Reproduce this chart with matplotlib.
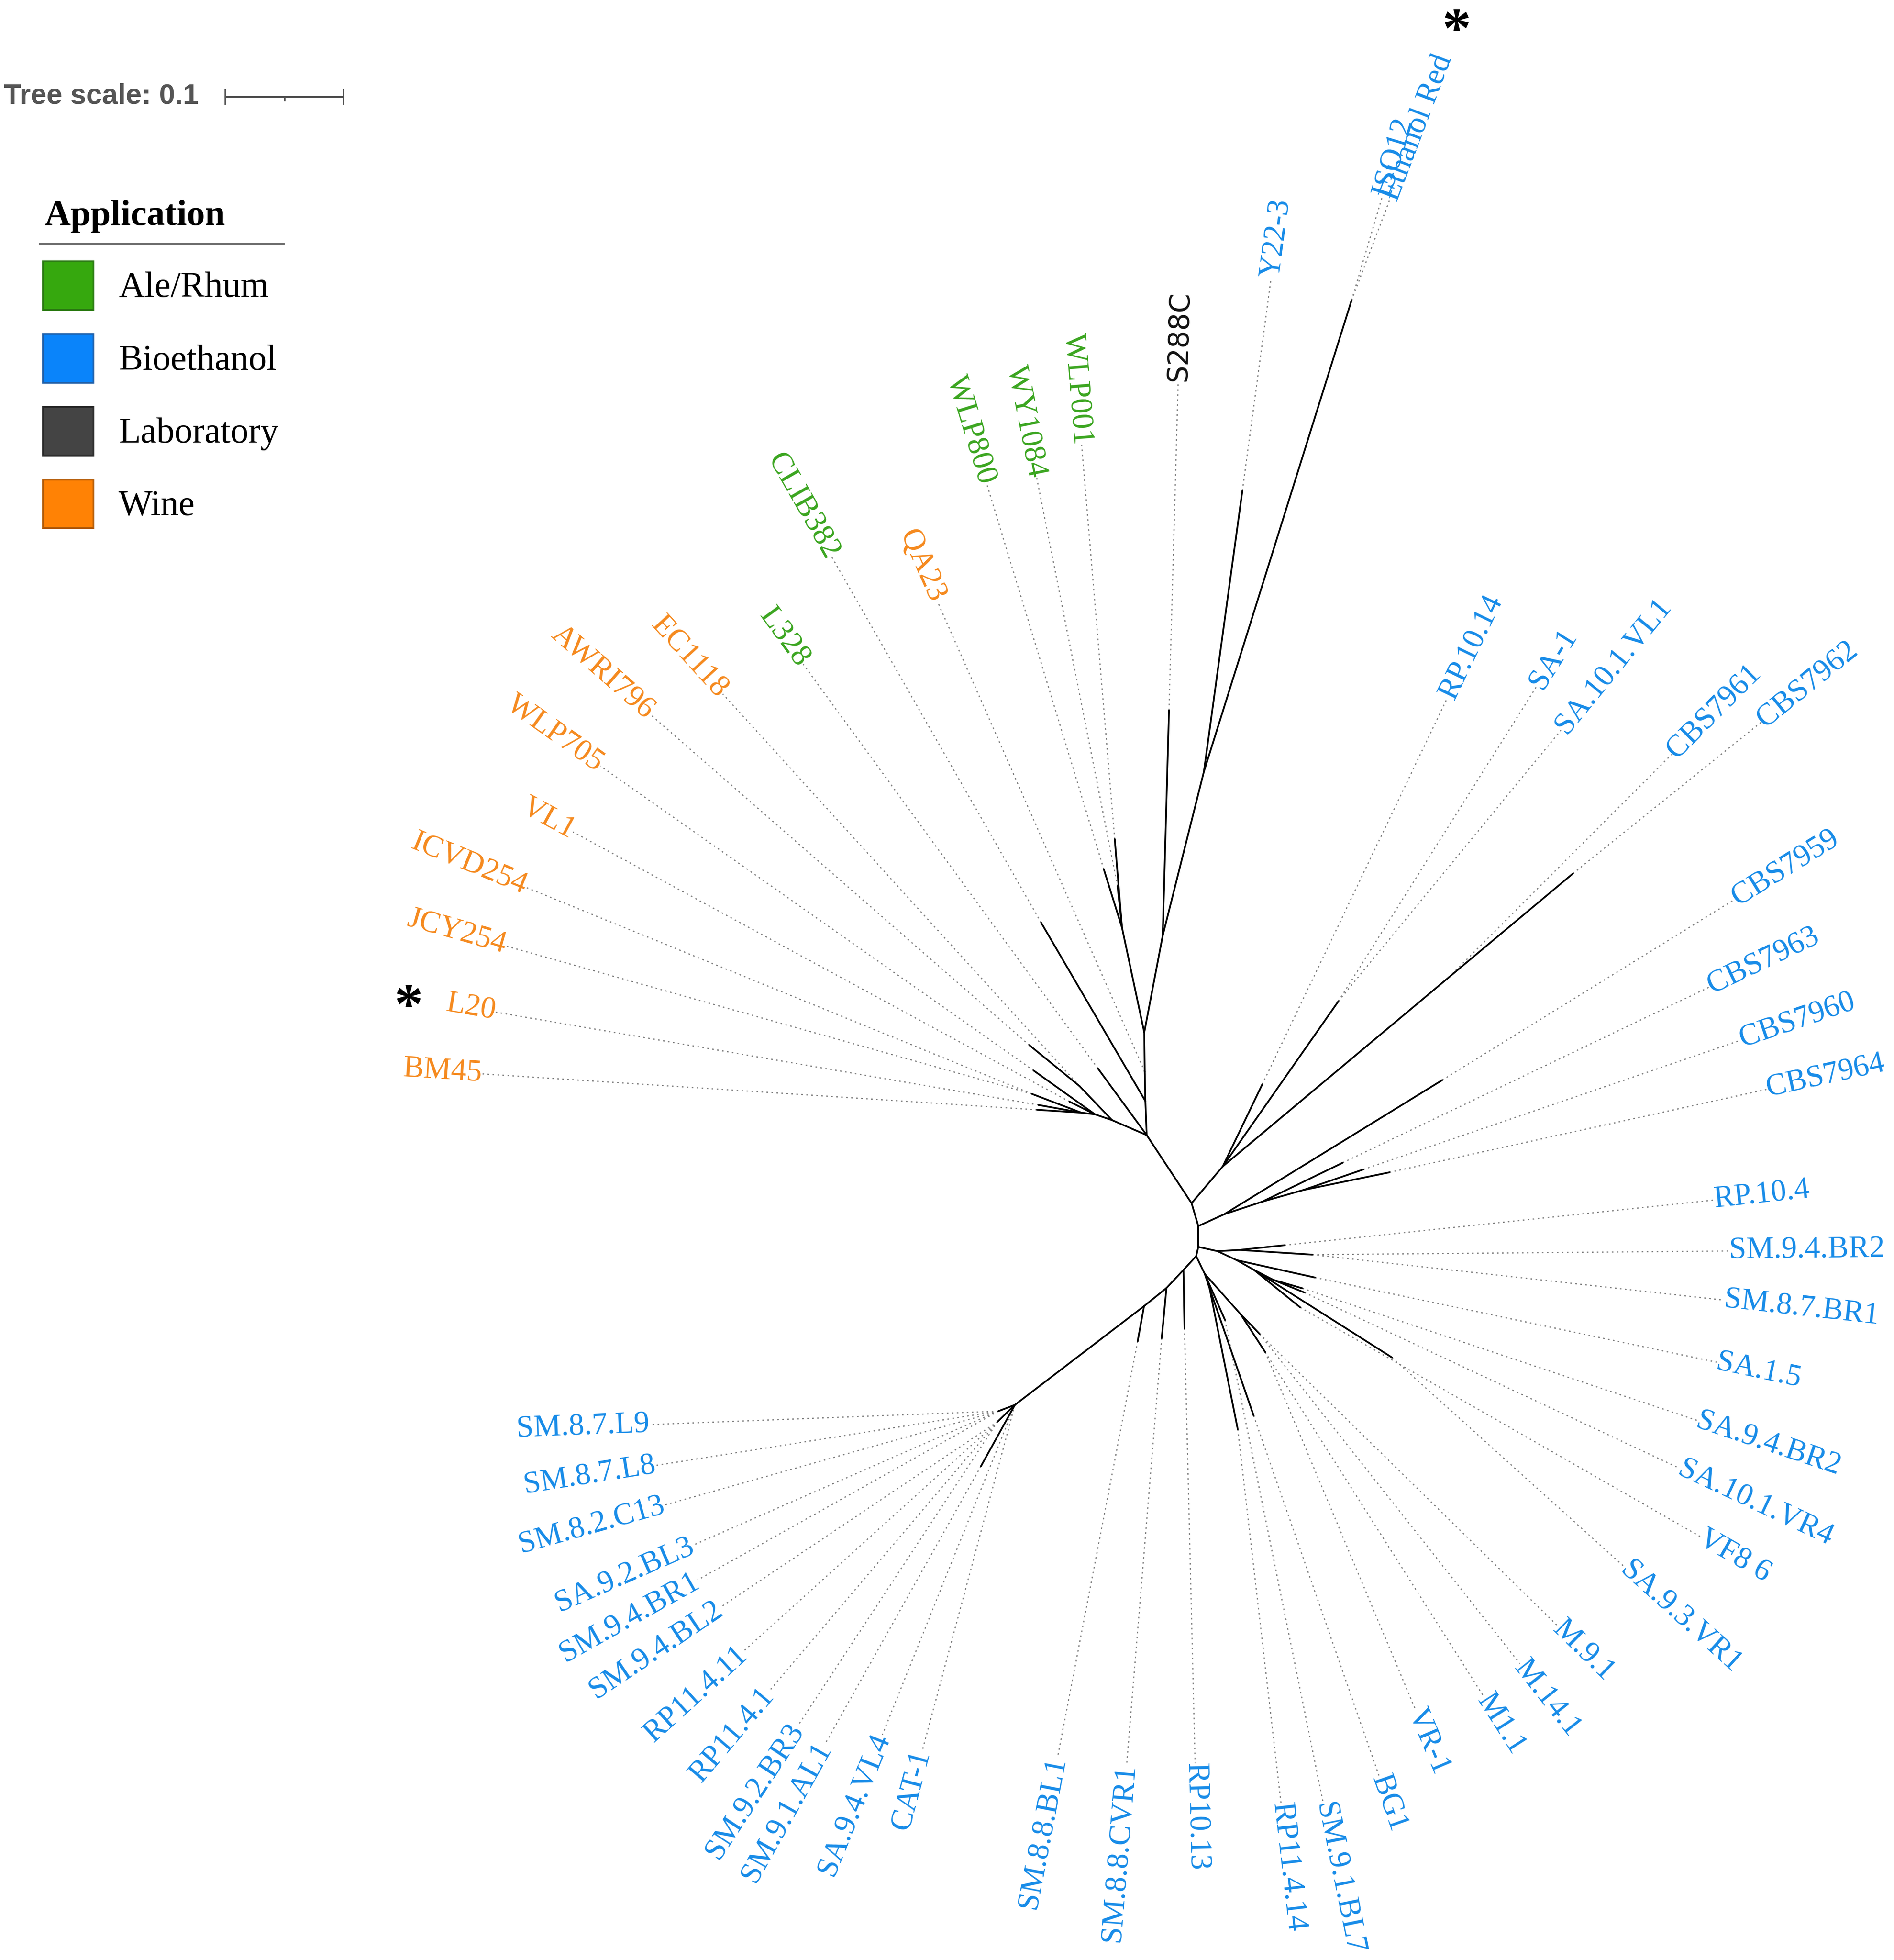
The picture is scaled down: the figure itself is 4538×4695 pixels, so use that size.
import numpy as np
import matplotlib
matplotlib.use('Agg')
import matplotlib.pyplot as plt
from matplotlib.collections import LineCollection
from matplotlib.patches import Rectangle
from matplotlib.lines import Line2D

# ---- tree data (unrooted layout, drawn from node "root") ----
# internal nodes: parent, branch length (tree units), drawing angle (deg)
node_names  = ['A', 'c1', 'c2', 'C', 'D', 'E', 'F', 'G1', 'G', 'e1', 'G2', 'G3', 'g4',
               'H', 'H2', 'H3', 'I', 'I2', 'I3', 'I4', 'J', 'U', 'Q', 'R', 'T', 'V', 'X',
               'K', 'L', 'N', 'O', 'P', 'P1', 'P2', 'Z1', 'Z2', 'Z4', 'm1', 'm2']
node_parent = ['root', 'A', 'c1', 'c2', 'C', 'C', 'E', 'F', 'A', 'G', 'G', 'G2', 'G3',
               'root', 'H', 'H', 'root', 'I', 'I2', 'I3', 'I', 'J', 'U', 'Q', 'U', 'T', 'V',
               'J', 'K', 'L', 'N', 'O', 'P', 'P', 'K', 'Z1', 'Z1', 'Z4', 'Z4']
node_len    = [0.0688, 0.0288, 0.0248, 0.0331, 0.0903, 0.0831, 0.1427, 0.4169, 0.0319,
               0.0397, 0.0151, 0.0118, 0.0445,
               0.0407, 0.1702, 0.2486, 0.0201, 0.0241, 0.0338, 0.0359, 0.0176, 0.0166,
               0.0186, 0.0616, 0.0179, 0.0165, 0.0185,
               0.0080, 0.0158, 0.0210, 0.0243, 0.1372, 0.0150, 0.0203, 0.0167, 0.0129,
               0.0453, 0.0233, 0.0383]
node_ang    = [123.4, 92.3, 91.2, 90.7, 102.0, 79.2, 75.9, 72.6, 156.6, 133.7, 161.3, 172.8,
               159.2,
               49.7, 55.0, 39.9, -73.6, 24.5, 18.3, 15.8, -90.0, -12.5, 3.2, -3.7, -25.1,
               -29.3, -27.4,
               -102.9, -132.8, -133.2, -141.1, -142.6, 200.8, 224.1, -64.2, -71.6, -48.3,
               -46.1, -57.0]

# leaves: name, application, parent, branch length, branch angle, leader length, leader angle
leaf_names  = ['S288C', 'Y22-3', 'ISO12', 'Ethanol Red', 'WLP001', 'WY1084', 'WLP800',
               'QA23', 'CLIB382', 'L328', 'AWRI796', 'EC1118', 'WLP705', 'VL1', 'ICVD254',
               'JCY254', 'L20', 'BM45',
               'RP.10.14', 'SA-1', 'SA.10.1.VL1', 'CBS7962', 'CBS7961', 'CBS7959', 'CBS7963',
               'CBS7960', 'CBS7964',
               'RP.10.4', 'SM.9.4.BR2', 'SM.8.7.BR1', 'SA.1.5', 'SA.9.4.BR2', 'SA.10.1.VR4',
               'VF8 6', 'SA.9.3.VR1',
               'M.9.1', 'M.14.1', 'M1.1', 'VR-1', 'BG1', 'SM.9.1.BL7', 'RP11.4.14', 'RP10.13',
               'SM.8.8.CVR1', 'SM.8.8.BL1',
               'CAT-1', 'SA.9.4.VL4', 'SM.9.1.AL1', 'SM.9.2.BR3', 'RP11.4.1', 'RP11.4.11',
               'SM.9.4.BL2', 'SM.9.4.BR1', 'SA.9.2.BL3', 'SM.8.2.C13', 'SM.8.7.L8', 'SM.8.7.L9']
leaf_group  = ['Laboratory', 'Bioethanol', 'Bioethanol', 'Bioethanol', 'Ale/Rhum', 'Ale/Rhum',
               'Ale/Rhum', 'Wine', 'Ale/Rhum', 'Ale/Rhum', 'Wine', 'Wine', 'Wine', 'Wine',
               'Wine', 'Wine', 'Wine', 'Wine'] + ['Bioethanol'] * 39
leaf_parent = ['E', 'F', 'G1', 'G1', 'D', 'D', 'D', 'c2', 'c1', 'A', 'e1', 'e1', 'G2', 'G2',
               'g4', 'g4', 'G3', 'G3',
               'H', 'H2', 'H2', 'H3', 'H3', 'I2', 'I3', 'I4', 'I4',
               'Q', 'R', 'R', 'T', 'X', 'X', 'V', 'V',
               'm1', 'm1', 'm2', 'm2', 'Z2', 'Z1', 'Z2', 'L', 'N', 'O',
               'P', 'P', 'P', 'P2', 'P2', 'P2', 'P2', 'P1', 'P1', 'P1', 'P1', 'P1']
leaf_len    = [0.1903, 0.2394, 0, 0, 0.0750, 0.0354, 0.0518, 0, 0.1744, 0.0697, 0.0547, 0,
               0.0638, 0.0241, 0, 0, 0.0367, 0.0374,
               0.0768, 0, 0, 0.1367, 0, 0.2160, 0.0754, 0.0536, 0.0744,
               0.0382, 0, 0, 0.0677, 0.0257, 0.0285, 0.0505, 0.1381,
               0, 0, 0, 0, 0.1136, 0.0424, 0.1212, 0.0494, 0.0425, 0.0302,
               0, 0, 0.0592, 0, 0, 0, 0, 0, 0, 0, 0, 0]
leaf_ang    = [88.4, 82.2, 73.5, 69.2, 94.7, 96.1, 107.3, 113.8, 120.3, 126.2, 140.8, 132.3,
               144.5, 153.5, 157.8, 164.3, 169.8, 176.3,
               64.3, 57.8, 50.6, 39.9, 45.0, 31.6, 25.8, 18.9, 11.6,
               6.0, 0.5, -6.3, -12.5, -16.2, -22.1, -39.0, -32.4,
               -44.4, -51.7, -57.6, -67.2, -70.9, -66.3, -78.7, -89.0, -95.4, -100.3,
               255.0, 248.1, 241.0, 236.7, 229.7, 222.1, 213.8, 209.3, 203.7, 195.7, 189.0,
               182.2]
label_len   = [0.2777, 0.1813, 0.0915, 0.0907, 0.3339, 0.3516, 0.3400, 0.4343, 0.3553,
               0.4222, 0.4248, 0.4475, 0.4468, 0.4769, 0.4617, 0.4615, 0.4649, 0.4694,
               0.3618, 0.3135, 0.2959, 0.2033, 0.2661, 0.2896, 0.3431, 0.3364, 0.3259,
               0.3647, 0.3517, 0.3496, 0.3464, 0.3511, 0.3493, 0.3893, 0.2639,
               0.3512, 0.3544, 0.3438, 0.3272, 0.3218, 0.4161, 0.3175, 0.3671, 0.3610,
               0.3573,
               0.3023, 0.3001, 0.2694, 0.3075, 0.2984, 0.2889, 0.2819, 0.2910, 0.2816,
               0.2930, 0.2930, 0.2948]
label_ang   = [88.4, 82.3, 73.5, 69.2, 94.8, 101.2, 106.9, 113.8, 119.8, 126.1, 138.9, 132.3,
               144.9, 151.5, 157.8, 164.3, 170.3, 176.3,
               64.4, 57.8, 50.6, 38.8, 45.0, 31.7, 25.6, 18.9, 12.4,
               6.0, 0.5, -6.3, -11.9, -18.5, -25.1, -29.8, -42.0,
               -44.4, -51.7, -57.6, -67.2, -70.8, -78.5, -83.4, -88.6, -94.7, -100.9,
               255.0, 248.1, 240.7, 236.7, 229.7, 222.1, 213.8, 209.3, 203.7, 195.7, 189.0,
               182.2]

groups       = ['Ale/Rhum', 'Bioethanol', 'Laboratory', 'Wine']
group_fill   = ['#36a80e', '#0a84fa', '#444444', '#ff8205']
group_edge   = ['#2a7a12', '#1f5fa8', '#2a2a2a', '#b35c08']
group_label  = {'Ale/Rhum': '#3aa51f', 'Bioethanol': '#168be8',
                'Laboratory': '#111111', 'Wine': '#f5891d'}

# ---- figure ----
W, H = 4538, 4695
fig = plt.figure(figsize=(W / 300, H / 300), dpi=300)
fig.patch.set_facecolor('white')
ax = fig.add_axes([0, 0, 1, 1])
ax.set_xlim(-1.0058, 0.5929)
ax.set_ylim(-0.6386, 1.0153)
ax.axis('off')

def unit(a):
    r = np.deg2rad(a)
    return np.array([np.cos(r), np.sin(r)])

pos = {'root': np.array([0.0, 0.0])}
branches = []
for n, p, l, a in zip(node_names, node_parent, node_len, node_ang):
    pos[n] = pos[p] + l * unit(a)
    branches.append([pos[p], pos[n]])

leaders = []
label_fam = ['Liberation Serif', 'DejaVu Serif']
for name, g, p, l, a, ll, la in zip(leaf_names, leaf_group, leaf_parent, leaf_len,
                                     leaf_ang, label_len, label_ang):
    tip = pos[p] + l * unit(a)
    if l > 0:
        branches.append([pos[p], tip])
    end = tip + ll * unit(la)
    leaders.append([tip, end])
    if np.cos(np.deg2rad(la)) >= 0:
        rot, ha = la, 'left'
    else:
        rot, ha = la - 180, 'right'
    if g == 'Laboratory':
        fam, fs = ['Liberation Sans Narrow', 'DejaVu Sans'], 16
    else:
        fam, fs = label_fam, 17.8
    ax.text(end[0], end[1], name, rotation=rot, rotation_mode='anchor', ha=ha,
            va='center', fontsize=fs, color=group_label[g], family=fam)

ax.add_collection(LineCollection(leaders, colors='#808080', linewidths=0.7,
                                 linestyles=[(0, (1.3, 2.8))]))
ax.add_collection(LineCollection(branches, colors='black', linewidths=1.0,
                                 capstyle='round'))

# ---- tree scale ----
sx, sy = -0.8157, 0.9335
ax.plot([sx, sx + 0.1], [sy, sy], color='#555555', lw=1.0)
for x in (sx, sx + 0.1):
    ax.plot([x, x], [sy - 0.0058, sy + 0.0058], color='#555555', lw=1.0)
ax.plot([sx + 0.05, sx + 0.05], [sy, sy - 0.0032], color='#555555', lw=1.0)

PW, PH = 1520.3, 1572.9   # reference layout size used for placing the side panels
def fxy(x, y):
    return x / PW, 1 - y / PH

fig.text(*fxy(3.0, 83.3), 'Tree scale: 0.1', ha='left', va='baseline', fontsize=16.4,
         fontweight='bold', color='#555555', family=['Liberation Sans', 'DejaVu Sans'])

# ---- legend ----
fig.text(*fxy(35.6, 180.6), 'Application', ha='left', va='baseline', fontsize=20.8,
         fontweight='bold', color='black', family=label_fam)
fig.add_artist(Line2D([31.7 / PW, 227.9 / PW], [1 - 195.8 / PH] * 2, color='#777777',
                      lw=1.0, transform=fig.transFigure))
for i, (g, fc, ec) in enumerate(zip(groups, group_fill, group_edge)):
    top = 209.7 + i * 58.4
    x0, y0 = fxy(34.6, top + 39.0)
    fig.add_artist(Rectangle((x0, y0), 40.4 / PW, 39.0 / PH, facecolor=fc, edgecolor=ec,
                             lw=1.0, transform=fig.transFigure))
    fig.text(*fxy(95.2, 238.3 + i * 58.4), g, ha='left', va='baseline', fontsize=20.7,
             color='black', family=label_fam)

# ---- markers for highlighted strains ----
fig.text(*fxy(1169, 38), '*', ha='center', va='baseline', fontsize=33,
         fontweight='bold', color='black', family=label_fam)
fig.text(*fxy(328, 821), '*', ha='center', va='baseline', fontsize=33,
         fontweight='bold', color='black', family=label_fam)

fig.savefig('out.png', dpi=300, facecolor='white')
